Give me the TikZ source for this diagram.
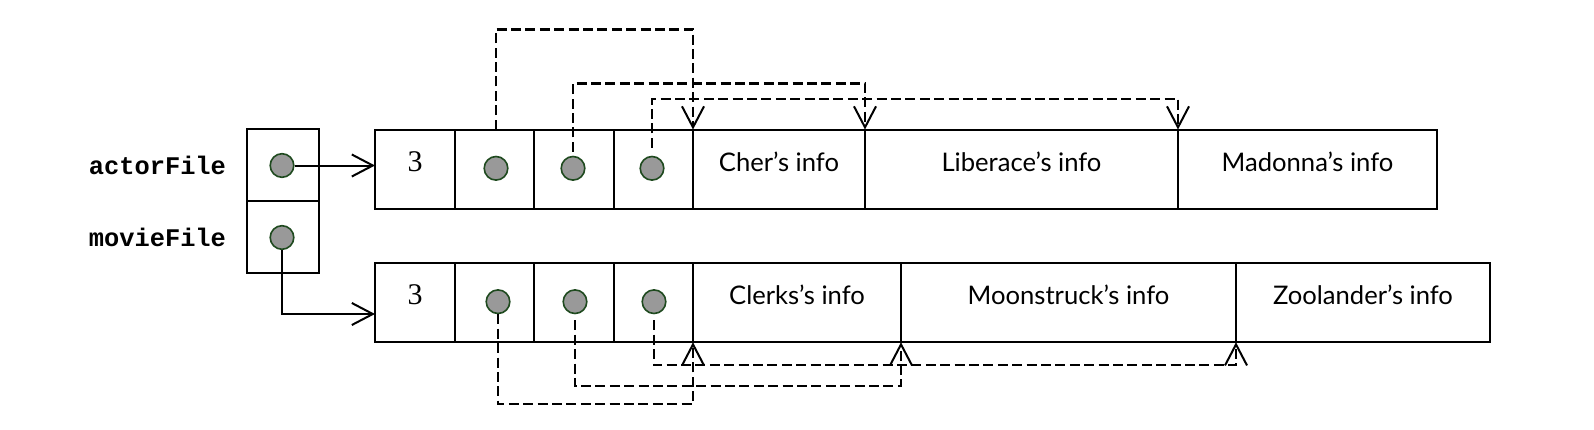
\documentclass[tikz,border=0pt]{standalone}
\usepackage{fontspec}
\setmainfont{Lato}
\newfontfamily\varfont{Liberation Mono}
\newfontfamily\numfont{Liberation Serif}
\usetikzlibrary{arrows.meta,positioning}
\definecolor{dotfill}{HTML}{999999}
\definecolor{dotedge}{HTML}{1F4A1F}
\tikzset{
	cell/.style={draw,rectangle,minimum height=39.75pt,inner sep=0pt,outer sep=0pt,text depth=8pt,font=\fontsize{12.8}{15}\selectfont},
	numcell/.style={cell,text depth=8pt,font=\numfont\fontsize{15}{18}\selectfont},
	dot/.style={circle,draw=dotedge,fill=dotfill,line width=0.8pt,minimum size=11.8pt,inner sep=0pt},
	varname/.style={font=\varfont\bfseries\fontsize{12.7}{15}\selectfont,inner sep=0pt},
	ptr/.style={line width=1.2pt,dash pattern=on 5pt off 2.2pt},
	tip/.style={-{Straight Barb[length=10.5pt,width=11pt,line width=1pt]}}
}
\begin{document}
\begin{tikzpicture}[x=0.5pt,y=-0.5pt,line width=1pt]
	\useasboundingbox (0,0) rectangle (1594,429);
	\node[cell,minimum width=36pt,minimum height=36pt] (af) at (283,165) {};
	\node[cell,minimum width=36pt,minimum height=36pt] (mf) at (283,237) {};
	\node[dot] (da) at (282,165.5) {};
	\node[dot] (dm) at (282,237.5) {};
	\node[varname,left=10pt of af] (actorlab) {actorFile};
	\node[varname,left=10pt of mf] (movielab) {movieFile};
	\node[numcell,minimum width=40pt] (a0) at (415,169.25) {3};
	\node[cell,minimum width=39.5pt] (a1) at (494.5,169.25) {};
	\node[cell,minimum width=40pt] (a2) at (574,169.25) {};
	\node[cell,minimum width=39.5pt] (a3) at (653.5,169.25) {};
	\node[cell,minimum width=86pt] (cher) at (779,169.25) {Cher's info};
	\node[cell,minimum width=156.5pt] (liberace) at (1021.5,169.25) {Liberace's info};
	\node[cell,minimum width=129.5pt] (madonna) at (1307.5,169.25) {Madonna's info};
	\node[numcell,minimum width=40pt] (b0) at (415,302.5) {3};
	\node[cell,minimum width=39.5pt] (b1) at (494.5,302.5) {};
	\node[cell,minimum width=40pt] (b2) at (574,302.5) {};
	\node[cell,minimum width=39.5pt] (b3) at (653.5,302.5) {};
	\node[cell,minimum width=104pt] (clerks) at (797,302.5) {Clerks's info};
	\node[cell,minimum width=167.5pt] (moonstruck) at (1068.5,302.5) {Moonstruck's info};
	\node[cell,minimum width=127pt] (zoolander) at (1363,302.5) {Zoolander's info};
	\node[dot] (p1) at (496,168.3) {};
	\node[dot] (p2) at (573,168.3) {};
	\node[dot] (p3) at (652,168.3) {};
	\node[dot] (q1) at (498,301.7) {};
	\node[dot] (q2) at (575,301.7) {};
	\node[dot] (q3) at (654,301.7) {};
	\draw[tip] (da.east) -- (da.east -| a0.west);
	\draw[tip] (dm.south) |- ([yshift=-5.75pt]b0.west);
	\draw[ptr,tip] (p1 |- a1.north) |- ([yshift=50.1pt]cher.north west) -- (cher.north west);
	\draw[ptr,tip,shorten <=2pt] (p2.north) |- ([yshift=23.1pt]liberace.north west) -- (liberace.north west);
	\draw[ptr,tip,shorten <=4pt] (p3.north) |- ([yshift=15.4pt]madonna.north west) -- (madonna.north west);
	\draw[ptr,tip] (q1.south) |- ([yshift=-31pt]clerks.south west) -- (clerks.south west);
	\draw[ptr,tip,shorten <=3pt] (q2.south) |- ([yshift=-22pt]moonstruck.south west) -- (moonstruck.south west);
	\draw[ptr,tip,shorten <=3pt] (q3.south) |- ([yshift=-11.5pt]zoolander.south west) -- (zoolander.south west);
\end{tikzpicture}
\end{document}
